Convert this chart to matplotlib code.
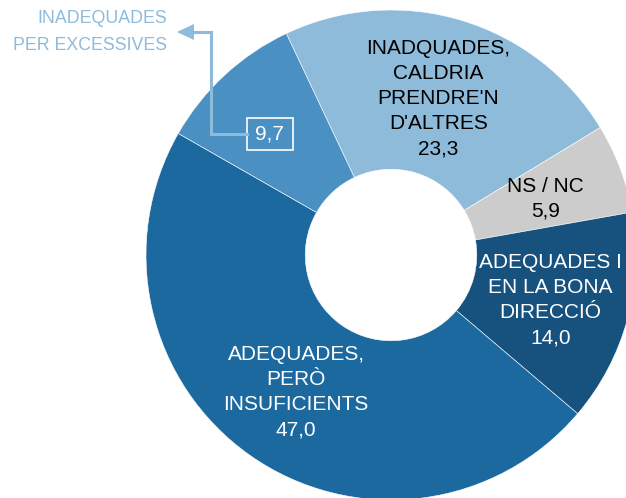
import numpy as np
import matplotlib
matplotlib.use("Agg")
import matplotlib.pyplot as plt
from matplotlib.patches import Polygon, Rectangle

plt.rcParams['font.family'] = ['Liberation Sans', 'DejaVu Sans']

# Survey shares (%), clockwise from the top
categories = [
    "INADQUADES,\nCALDRIA\nPRENDRE'N\nD'ALTRES",
    "NS / NC",
    "ADEQUADES I\nEN LA BONA\nDIRECCIÓ",
    "ADEQUADES,\nPERÒ\nINSUFICIENTS",
    "INADEQUADES\nPER EXCESSIVES",
]
values = [23.3, 5.9, 14.0, 47.0, 9.7]
value_labels = ["23,3", "5,9", "14,0", "47,0", "9,7"]
colors = ["#8FBBDA", "#CCCCCC", "#17527F", "#1C69A0", "#4A90C3"]
text_colors = ["black", "black", "white", "white", "white"]

W, H = 626, 498
fig = plt.figure(figsize=(W / 100, H / 100), dpi=100)
ax = fig.add_axes([0, 0, 1, 1])

cx, cy, R = 391, 243, 245
start = 115.3
wedges, _ = ax.pie(values, colors=colors, startangle=start, counterclock=False,
                   center=(cx, cy), radius=R, frame=True,
                   wedgeprops=dict(width=R * 0.65, edgecolor="white", linewidth=0.4))
ax.set_xlim(0, W)
ax.set_ylim(0, H)
ax.set_aspect("equal")
ax.axis("off")

label_r = 0.675 * R
fs = 15
for i, w in enumerate(wedges):
    mid = np.deg2rad((w.theta1 + w.theta2) / 2)
    x = cx + label_r * np.cos(mid)
    y = cy + label_r * np.sin(mid)
    if i < 4:
        ax.text(x, y - 2, categories[i] + "\n" + value_labels[i], ha="center", va="center",
                fontsize=fs, color=text_colors[i], linespacing=1.4)
    else:
        bx, by = x - 9, y
        bw, bh = 46, 32
        ax.add_patch(Rectangle((bx - bw / 2, by - bh / 2), bw, bh, fc="none",
                               ec="white", lw=1.2))
        ax.text(bx, by, value_labels[i], ha="center", va="center", fontsize=fs,
                color="white")
        # callout to the outside label
        arrow_c = "#8FBBDA"
        left = bx - bw / 2
        xv = left - 36
        ytop = H - 32
        ax.plot([left, xv, xv, 192], [by, by, ytop, ytop], color=arrow_c, lw=2.2,
                solid_joinstyle="miter")
        ax.add_patch(Polygon([[177, ytop], [194, ytop + 8], [194, ytop - 8]],
                             closed=True, color=arrow_c, lw=0))
        ax.text(167, H - 32, categories[i], ha="right", va="center", fontsize=12.8,
                color=arrow_c, linespacing=1.72)

fig.savefig("out.png", dpi=100)
